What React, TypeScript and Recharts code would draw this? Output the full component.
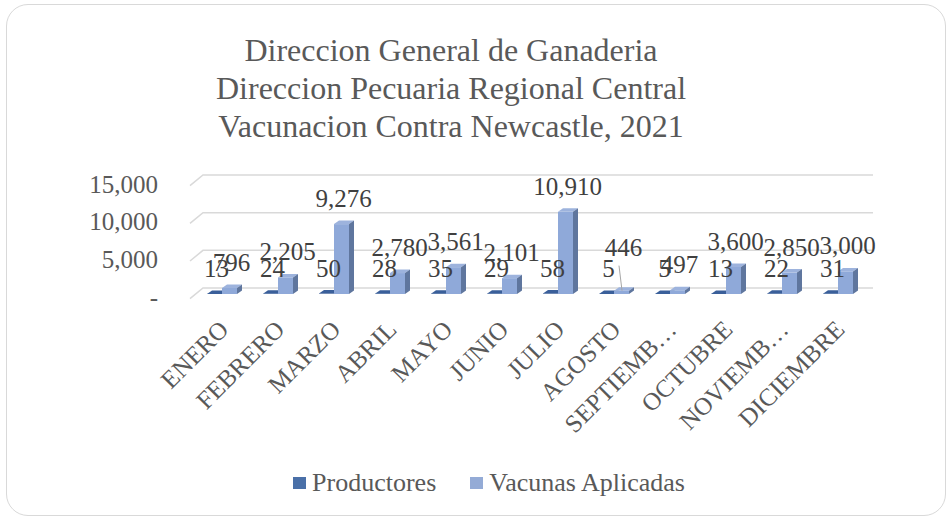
import React from 'react';
import { BarChart, Bar, XAxis, YAxis, CartesianGrid, Legend, LabelList } from 'recharts';

const months = ['ENERO', 'FEBRERO', 'MARZO', 'ABRIL', 'MAYO', 'JUNIO', 'JULIO', 'AGOSTO', 'SEPTIEMB…', 'OCTUBRE', 'NOVIEMB…', 'DICIEMBRE'];
const productores = [13, 24, 50, 28, 35, 29, 58, 5, 5, 13, 22, 31];
const vacunas = [796, 2205, 9276, 2780, 3561, 2101, 10910, 446, 497, 3600, 2850, 3000];
const yTicks = [0, 5000, 10000, 15000];
const seriesNames = ['Productores', 'Vacunas Aplicadas'];
const titleLines = ['Direccion General de Ganaderia', 'Direccion Pecuaria Regional Central', 'Vacunacion Contra Newcastle, 2021'];

const data = months.map((m, i) => ({ mes: m, productores: productores[i], vacunas: vacunas[i] }));

const FONT = '"Liberation Serif", "Times New Roman", Times, serif';
const DX = 5;
const DY = 3.5;

const fmt = (v: number) => (v === 0 ? '-' : v.toLocaleString('en-US'));

const makeShape = (front: string, top: string, side: string) => (props: any) => {
  const { x, y, width, height } = props;
  if (x == null || y == null) return null;
  const h = Math.max(0, height || 0);
  return (
    <g>
      <rect x={x} y={y} width={width} height={h} fill={front} />
      <polygon points={`${x},${y} ${x + DX},${y - DY} ${x + width + DX},${y - DY} ${x + width},${y}`} fill={top} />
      <polygon points={`${x + width},${y} ${x + width + DX},${y - DY} ${x + width + DX},${y + h - DY} ${x + width},${y + h}`} fill={side} />
    </g>
  );
};

// labels that Excel moved upward (index -> lift in px), drawn with a leader line
const raisedVacunas: Record<number, number> = { 7: 18 };

const makeLabel = (raised: Record<number, number>) => (props: any) => {
  const { x, y, width, value, index } = props;
  const cx = x + width / 2 + 2;
  const lift = raised[index] ?? 0;
  const by = y - 17 - lift;
  return (
    <g>
      {lift > 0 && <line x1={cx - 4.5} y1={by + 10} x2={cx - 1.5} y2={y} stroke="#A6A6A6" strokeWidth={1} />}
      <text x={cx} y={by} textAnchor="middle" fontSize={25} fill="#404040" fontFamily={FONT}>
        {fmt(value)}
      </text>
    </g>
  );
};

const gridLine = (props: any) => {
  const { x1, x2, y1, index } = props;
  return (
    <polyline
      key={`g-${index}-${y1}`}
      points={`${x1 - 4},${y1 + 4.7} ${x1 + 9},${y1 - 6} ${x2 + 7},${y1 - 6}`}
      fill="none"
      stroke="#D9D9D9"
      strokeWidth={1.5}
    />
  );
};

const YTick = (props: any) => {
  const { x, y, payload } = props;
  return (
    <text x={x} y={y + 3} dy="0.35em" textAnchor="end" fontSize={25} fill="#595959" fontFamily={FONT}>
      {fmt(payload.value)}
    </text>
  );
};

const XTick = (props: any) => {
  const { x, y, payload } = props;
  return (
    <text
      transform={`translate(${x + 8},${y + 37}) rotate(-45)`}
      textAnchor="end"
      fontSize={25}
      fill="#595959"
      fontFamily={FONT}
    >
      {payload.value}
    </text>
  );
};

const LegendContent = (props: any) => {
  const items = props.payload || [];
  return (
    <div style={{ position: 'relative', height: 0 }}>
      <div
        style={{
          position: 'absolute',
          left: 0,
          top: 0,
          width: 978,
          display: 'flex',
          justifyContent: 'center',
          alignItems: 'center',
          fontFamily: FONT,
          fontSize: 26,
          lineHeight: '30px',
          color: '#595959',
        }}
      >
        {items.map((it: any, i: number) => (
          <div key={i} style={{ display: 'flex', alignItems: 'center', marginLeft: i === 0 ? 0 : 34 }}>
            <span style={{ display: 'inline-block', width: 13, height: 12, background: it.color, marginRight: 6 }} />
            <span>{it.value}</span>
          </div>
        ))}
      </div>
    </div>
  );
};

export default function App() {
  return (
    <div style={{ position: 'absolute', left: 0, top: 0, width: 952, height: 519, background: '#ffffff', fontFamily: FONT }}>
      <div
        style={{
          position: 'absolute',
          left: 6,
          top: 4,
          width: 940,
          height: 512,
          border: '1.5px solid #D9D9D9',
          borderRadius: 22,
          boxSizing: 'border-box',
        }}
      />
      <div
        style={{
          position: 'absolute',
          left: 0,
          top: 31,
          width: 902,
          textAlign: 'center',
          fontSize: 32,
          lineHeight: '38px',
          color: '#595959',
        }}
      >
        {titleLines.map((t, i) => (
          <div key={i}>{t}</div>
        ))}
      </div>
      <div style={{ position: 'absolute', left: 0, top: 0 }}>
        <BarChart
          width={952}
          height={519}
          data={data}
          margin={{ top: 181, right: 86, bottom: 195, left: 0 }}
          barSize={15}
          barGap={0}
        >
          <CartesianGrid vertical={false} horizontal={gridLine} />
          <XAxis dataKey="mes" axisLine={false} tickLine={false} tickSize={0} tickMargin={0} height={30} interval={0} tick={<XTick />} />
          <YAxis
            width={194}
            domain={[0, 15000]}
            ticks={yTicks}
            axisLine={false}
            tickLine={false}
            tickSize={0}
            tickMargin={36}
            tick={<YTick />}
          />
          <Legend
            verticalAlign="bottom"
            content={<LegendContent />}
            wrapperStyle={{ position: 'absolute', top: 468, left: 0, bottom: 'auto', width: 952 }}
          />
          <Bar
            dataKey="productores"
            name={seriesNames[0]}
            fill="#4A70A8"
            isAnimationActive={false}
            shape={makeShape('#2E4F85', '#3A5F9A', '#243F6C')}
          >
            <LabelList dataKey="productores" content={makeLabel({})} />
          </Bar>
          <Bar
            dataKey="vacunas"
            name={seriesNames[1]}
            fill="#94ABD6"
            isAnimationActive={false}
            shape={makeShape('#8FA9D9', '#9DB3DD', '#5F769E')}
          >
            <LabelList dataKey="vacunas" content={makeLabel(raisedVacunas)} />
          </Bar>
        </BarChart>
      </div>
    </div>
  );
}
